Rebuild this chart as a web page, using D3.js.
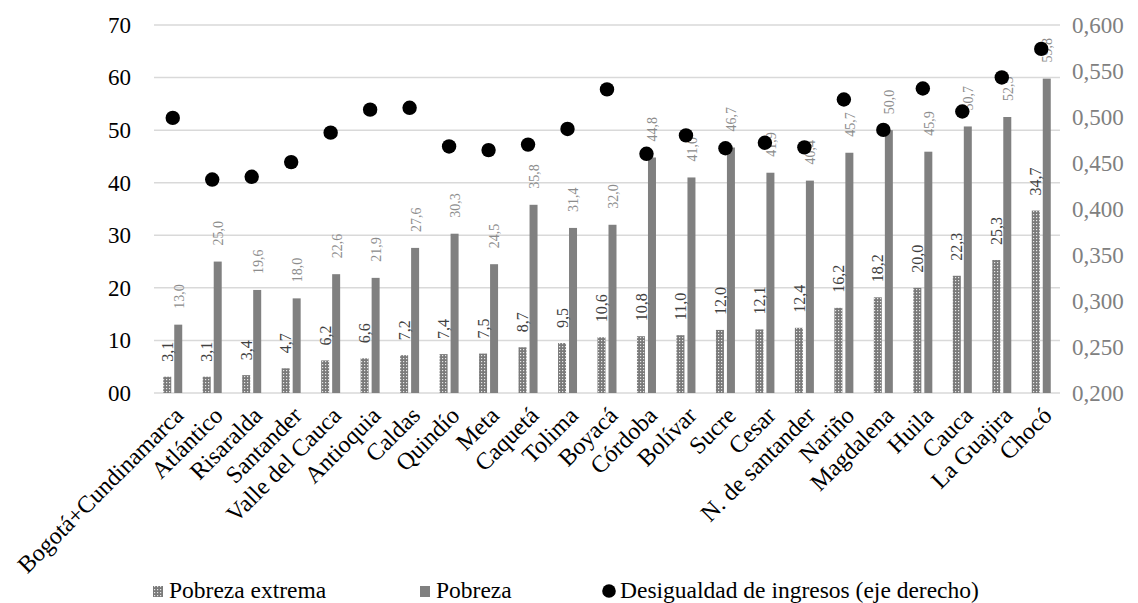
<!DOCTYPE html>
<html>
<head>
<meta charset="utf-8">
<script src="https://cdn.jsdelivr.net/npm/d3@7"></script>
<style>
  body { margin: 0; background: #fff; }
  svg { font-family: "Liberation Serif", "Times New Roman", serif; }
</style>
</head>
<body>
<svg id="chart" width="1138" height="603"></svg>
<script>
// departamentos, ordered as in the source figure
var categories = ["Bogotá+Cundinamarca", "Atlántico", "Risaralda", "Santander", "Valle del Cauca",
  "Antioquia", "Caldas", "Quindío", "Meta", "Caquetá", "Tolima", "Boyacá", "Córdoba", "Bolívar",
  "Sucre", "Cesar", "N. de santander", "Nariño", "Magdalena", "Huila", "Cauca", "La Guajira", "Chocó"];
var pobrezaExtrema = [3.1, 3.1, 3.4, 4.7, 6.2, 6.6, 7.2, 7.4, 7.5, 8.7, 9.5, 10.6, 10.8, 11.0,
  12.0, 12.1, 12.4, 16.2, 18.2, 20.0, 22.3, 25.3, 34.7];
var pobreza = [13.0, 25.0, 19.6, 18.0, 22.6, 21.9, 27.6, 30.3, 24.5, 35.8, 31.4, 32.0, 44.8, 41.0,
  46.7, 41.9, 40.4, 45.7, 50.0, 45.9, 50.7, 52.5, 59.8];
// gini
var desigualdad = [0.499, 0.432, 0.435, 0.451, 0.483, 0.508, 0.510, 0.468, 0.464, 0.470, 0.487,
  0.530, 0.460, 0.480, 0.466, 0.472, 0.467, 0.519, 0.486, 0.531, 0.506, 0.543, 0.574];
var leftTicks = [0, 10, 20, 30, 40, 50, 60, 70];
var rightTicks = [0.2, 0.25, 0.3, 0.35, 0.4, 0.45, 0.5, 0.55, 0.6];

var svg = d3.select("#chart");
var plotLeft = 153, plotRight = 1061, plotTop = 25, plotBottom = 393;

var x = d3.scaleBand().domain(categories).range([plotLeft, plotRight]);
var y = d3.scaleLinear().domain([0, 70]).range([plotBottom, plotTop]);
var y2 = d3.scaleLinear().domain([0.2, 0.6]).range([plotBottom, plotTop]);

var comma = function(v, n) { return v.toFixed(n).replace(".", ","); };

var defs = svg.append("defs");
var pat = defs.append("pattern")
    .attr("id", "dots")
    .attr("patternUnits", "userSpaceOnUse")
    .attr("width", 3).attr("height", 3);
pat.append("rect").attr("width", 3).attr("height", 3).attr("fill", "#7a7a7a");
pat.append("rect").attr("x", 1).attr("y", 1).attr("width", 1.2).attr("height", 1.2).attr("fill", "#e8e8e8");

// gridlines
svg.append("g")
  .selectAll("line")
  .data(leftTicks)
  .join("line")
    .attr("x1", plotLeft + 1).attr("x2", plotRight - 1)
    .attr("y1", function(d) { return y(d); })
    .attr("y2", function(d) { return y(d); })
    .attr("stroke", "#d9d9d9")
    .attr("stroke-width", 1.5);

// left axis
var yAxis = svg.append("g")
    .attr("transform", "translate(" + (plotLeft - 19) + ",0)")
    .call(d3.axisLeft(y).tickValues(leftTicks).tickSize(0)
      .tickFormat(function(d) { return d === 0 ? "00" : d; }));
yAxis.select(".domain").remove();
yAxis.selectAll("text")
    .attr("font-family", "Liberation Serif, serif")
    .attr("font-size", 23)
    .attr("fill", "#000");

// right axis
var y2Axis = svg.append("g")
    .attr("transform", "translate(" + (plotRight + 8) + ",0)")
    .call(d3.axisRight(y2).tickValues(rightTicks).tickSize(0)
      .tickFormat(function(d) { return comma(d, 3); }));
y2Axis.select(".domain").remove();
y2Axis.selectAll("text")
    .attr("font-family", "Liberation Serif, serif")
    .attr("font-size", 23)
    .attr("fill", "#808080");

var bw = 8;
var cx = function(d) { return x(d) + x.bandwidth() / 2; };

// pobreza extrema bars
svg.append("g")
  .selectAll("rect")
  .data(categories)
  .join("rect")
    .attr("x", function(d) { return cx(d) - 9.5; })
    .attr("y", function(d, i) { return y(pobrezaExtrema[i]); })
    .attr("width", bw)
    .attr("height", function(d, i) { return plotBottom - y(pobrezaExtrema[i]); })
    .attr("fill", "url(#dots)");

// pobreza bars
svg.append("g")
  .selectAll("rect")
  .data(categories)
  .join("rect")
    .attr("x", function(d) { return cx(d) + 1.5; })
    .attr("y", function(d, i) { return y(pobreza[i]); })
    .attr("width", bw)
    .attr("height", function(d, i) { return plotBottom - y(pobreza[i]); })
    .attr("fill", "#808080");

// value labels
svg.append("g")
  .selectAll("text")
  .data(categories)
  .join("text")
    .attr("transform", function(d, i) {
      return "translate(" + (cx(d) - 5.5) + "," + (y(pobrezaExtrema[i]) - 15) + ") rotate(-90)"; })
    .attr("dy", "0.35em")
    .attr("font-size", 16)
    .attr("fill", "#404040")
    .text(function(d, i) { return comma(pobrezaExtrema[i], 1); });

svg.append("g")
  .selectAll("text")
  .data(categories)
  .join("text")
    .attr("transform", function(d, i) {
      return "translate(" + (cx(d) + 6) + "," + (y(pobreza[i]) - 16) + ") rotate(-90)"; })
    .attr("dy", "0.35em")
    .attr("font-size", 14)
    .attr("fill", "#8c8c8c")
    .text(function(d, i) { return comma(pobreza[i], 1); });

// gini dots
svg.append("g")
  .selectAll("circle")
  .data(categories)
  .join("circle")
    .attr("cx", function(d) { return cx(d); })
    .attr("cy", function(d, i) { return y2(desigualdad[i]); })
    .attr("r", 7.2)
    .attr("fill", "#000");

// category labels
svg.append("g")
  .selectAll("text")
  .data(categories)
  .join("text")
    .attr("transform", function(d) { return "translate(" + (cx(d) + 6) + ",411) rotate(-45)"; })
    .attr("text-anchor", "end")
    .attr("dy", "0.35em")
    .attr("font-size", 24)
    .attr("fill", "#000")
    .text(function(d) { return d; });

// legend
var legend = svg.append("g").attr("font-size", 23.5);
legend.append("rect").attr("x", 153).attr("y", 586).attr("width", 10).attr("height", 11).attr("fill", "url(#dots)");
legend.append("text").attr("x", 169).attr("y", 598).text("Pobreza extrema");
legend.append("rect").attr("x", 420).attr("y", 586).attr("width", 10).attr("height", 11).attr("fill", "#808080");
legend.append("text").attr("x", 436).attr("y", 598).text("Pobreza");
legend.append("circle").attr("cx", 609).attr("cy", 591).attr("r", 6.8).attr("fill", "#000");
legend.append("text").attr("x", 620).attr("y", 598).text("Desigualdad de ingresos (eje derecho)");
</script>
</body>
</html>
